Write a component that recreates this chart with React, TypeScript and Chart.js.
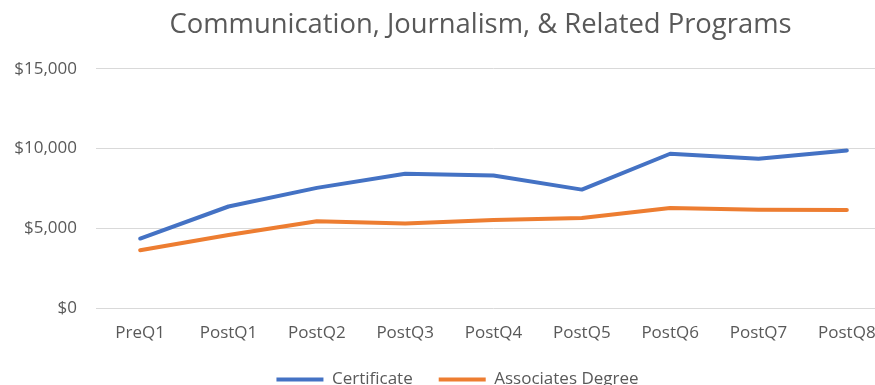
import React, { useEffect, useRef } from "react";
import { Chart, registerables } from "chart.js";

Chart.register(...registerables);

const categories = ["PreQ1", "PostQ1", "PostQ2", "PostQ3", "PostQ4", "PostQ5", "PostQ6", "PostQ7", "PostQ8"];
const certificate = [4360, 6370, 7540, 8420, 8310, 7430, 9680, 9360, 9890];
const associates = [3630, 4580, 5440, 5310, 5530, 5650, 6280, 6170, 6150];
const seriesNames = ["Certificate", "Associates Degree"];
const chartTitle = "Communication, Journalism, & Related Programs";

const TITLE_DX = 35;
const LEGEND_DX = 12;

const nudge = {
  id: "nudge",
  afterLayout(chart: any) {
    const t = chart.titleBlock;
    if (t) { t.left += TITLE_DX; t.right += TITLE_DX; }
    const l = chart.legend;
    if (l) { l.left += LEGEND_DX; l.right += LEGEND_DX; }
  },
};

export default function App() {
  const ref = useRef<HTMLCanvasElement>(null);
  useEffect(() => {
    if (!ref.current) return;
    const font = "'Open Sans', sans-serif";
    const chart = new Chart(ref.current, {
      type: "line",
      data: {
        labels: categories,
        datasets: [
          { label: seriesNames[0], data: certificate, borderColor: "#4472C4", backgroundColor: "#4472C4", borderWidth: 4, pointRadius: 0, tension: 0, borderCapStyle: "round", borderJoinStyle: "round" },
          { label: seriesNames[1], data: associates, borderColor: "#ED7D31", backgroundColor: "#ED7D31", borderWidth: 4, pointRadius: 0, tension: 0, borderCapStyle: "round", borderJoinStyle: "round" },
        ],
      },
      options: {
        responsive: false,
        animation: false,
        devicePixelRatio: 1,
        layout: { padding: { left: 0, right: 9, top: 0, bottom: 0 } },
        plugins: {
          title: {
            display: true,
            text: chartTitle,
            color: "#595959",
            font: { family: font, size: 27.4, weight: "normal" },
            padding: { top: 9, bottom: 27.1 },
          },
          legend: {
            position: "bottom",
            labels: {
              color: "#595959",
              font: { family: font, size: 17 },
              usePointStyle: true,
              pointStyle: "line",
              pointStyleWidth: 47,
              boxHeight: 17,
              padding: 26,
            },
          },
          tooltip: { enabled: false },
        },
        scales: {
          x: {
            type: "category",
            offset: true,
            grid: { display: false, drawTicks: false },
            border: { display: false },
            ticks: { color: "#595959", font: { family: font, size: 17 }, padding: 15, maxRotation: 0, autoSkip: false },
            afterFit: (s: any) => { s.height = 37; },
          },
          y: {
            min: 0,
            max: 15000,
            grid: { color: "#d9d9d9", lineWidth: 1, drawTicks: false },
            border: { display: false },
            ticks: {
              stepSize: 5000,
              color: "#595959",
              font: { family: font, size: 17 },
              padding: 19,
              callback: (v: any) => "$" + Number(v).toLocaleString("en-US"),
            },
            afterFit: (s: any) => { s.width = 96; },
          },
        },
      },
      plugins: [nudge],
    });
    return () => chart.destroy();
  }, []);
  return (
    <div style={{ position: "fixed", left: 0, top: 0, width: 875, height: 385, overflow: "hidden", background: "#fff" }}>
      <canvas ref={ref} width={900} height={398} style={{ width: 900, height: 398, display: "block" }} />
    </div>
  );
}
